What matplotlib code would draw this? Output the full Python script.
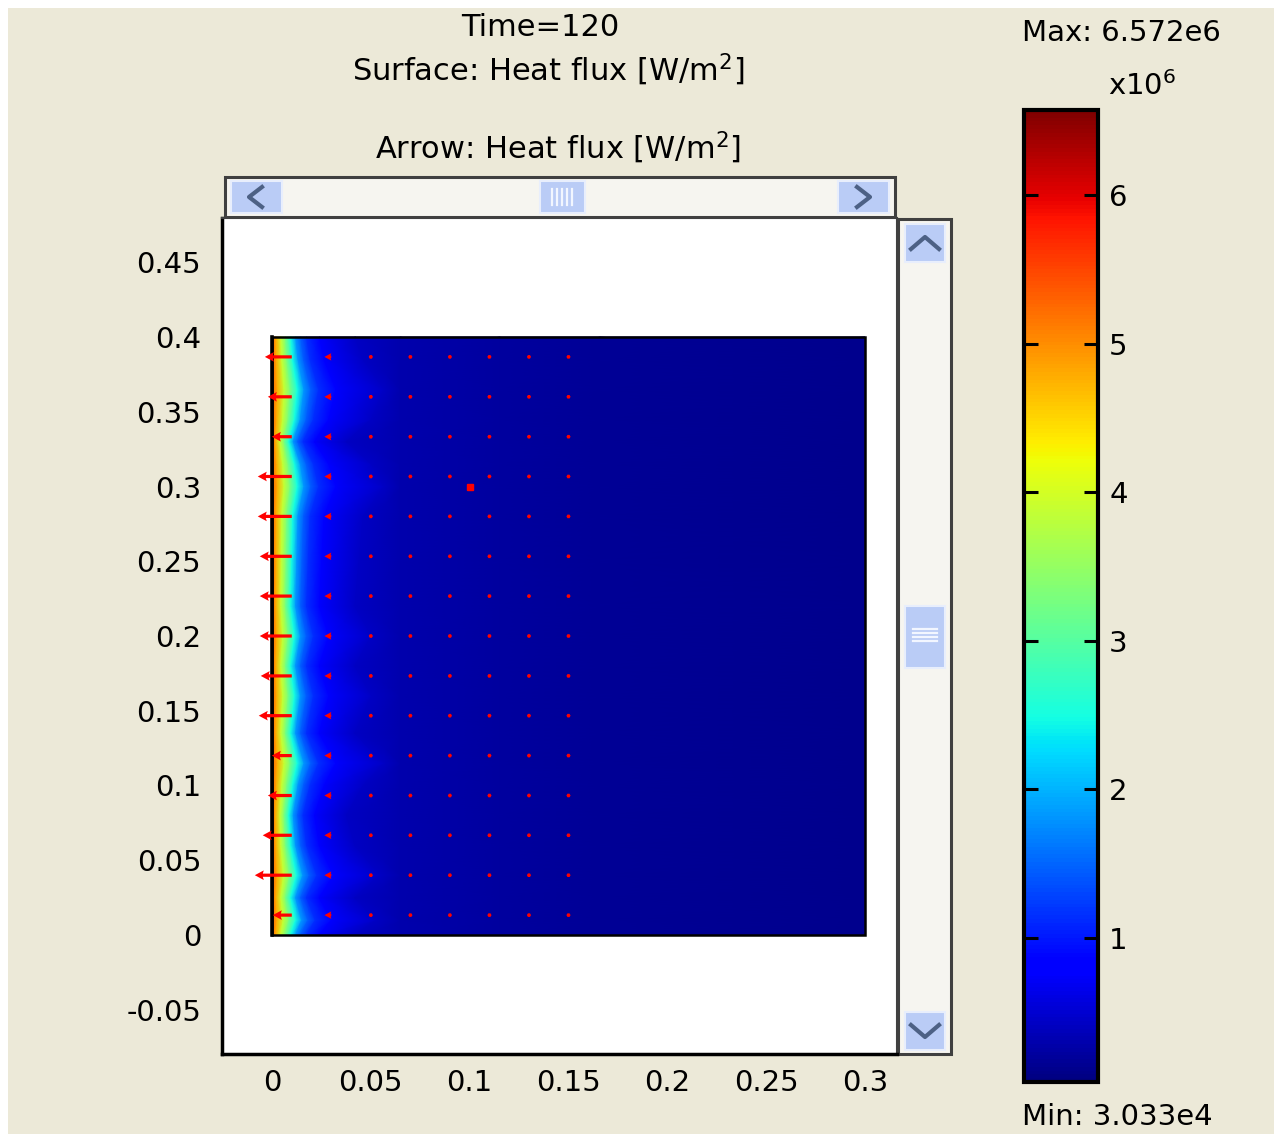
import numpy as np
import matplotlib
matplotlib.use("Agg")
import matplotlib.pyplot as plt
from matplotlib.patches import Rectangle

W, H = 1274, 1134
BG = "#ECE9D8"

# heat flux across the domain, away from the heated edge (x in m, flux in 1e6 W/m^2)
prof_x = [0.0, 0.002, 0.0045, 0.0068, 0.0095, 0.012, 0.0145, 0.0175, 0.024, 0.042, 0.065, 0.115, 0.166, 0.3]
prof_v = [5.3, 4.8, 3.9, 3.3, 2.5, 1.8, 1.45, 1.14, 0.75, 0.42, 0.3, 0.22, 0.17, 0.11]

# how far the hot band reaches in on each row
row_y = [0.0, 0.01, 0.025, 0.04, 0.06, 0.08, 0.1, 0.115, 0.135, 0.16, 0.18,
         0.2, 0.22, 0.25, 0.28, 0.3, 0.315, 0.33, 0.345, 0.365, 0.385, 0.4]
row_s = [1.0, 1.25, 1.0, 1.3, 1.0, 0.9, 1.1, 1.35, 1.0, 1.2, 1.0,
         1.2, 1.0, 1.05, 1.1, 1.35, 1.2, 0.9, 1.2, 1.35, 1.1, 1.0]

# arrow grid and x-component of the flux (1e6 W/m^2, pointing to -x)
arrow_x = [0.01, 0.03, 0.05, 0.07, 0.09, 0.11, 0.13, 0.15]
arrow_y = [0.3867, 0.36, 0.3333, 0.3067, 0.28, 0.2533, 0.2267, 0.2,
           0.1733, 0.1467, 0.12, 0.0933, 0.0667, 0.04, 0.0133]
qx_edge = [1.36, 1.21, 1.01, 1.72, 1.72, 1.62, 1.62, 1.62, 1.57, 1.67, 1.01, 1.21, 1.47, 1.87, 0.96]
qx_inner = [0.35, 0.2, 0.15, 0.1, 0.1, 0.1, 0.1]

probe = (0.1, 0.3)
vmin, vmax = 0.03033, 6.572
cb_ticks = [1, 2, 3, 4, 5, 6]
x_ticks = [0, 0.05, 0.1, 0.15, 0.2, 0.25, 0.3]
x_labels = ["0", "0.05", "0.1", "0.15", "0.2", "0.25", "0.3"]
y_ticks = [-0.05, 0, 0.05, 0.1, 0.15, 0.2, 0.25, 0.3, 0.35, 0.4, 0.45]
y_labels = ["-0.05", "0", "0.05", "0.1", "0.15", "0.2", "0.25", "0.3", "0.35", "0.4", "0.45"]

fig = plt.figure(figsize=(W / 100, H / 100), dpi=100, facecolor="white")

# ---------------- background and window widgets (pixel coords) ----------------
bg = fig.add_axes([0, 0, 1, 1], zorder=0)
bg.set_xlim(0, W)
bg.set_ylim(H, 0)
bg.axis("off")
bg.add_patch(Rectangle((8, 8), W - 8, H - 8, color=BG, lw=0))

BTN = "#BACCF6"
BTN_EDGE = "#E8EEFC"
CHEV = "#4D6185"

def button(x0, y0, x1, y1):
    bg.add_patch(Rectangle((x0, y0), x1 - x0, y1 - y0, fc=BTN, ec=BTN_EDGE, lw=1.5))

# horizontal scrollbar
bg.add_patch(Rectangle((225, 177), 670, 40, fc="#F6F5F0", ec="#404040", lw=2.2))
button(231, 181, 282, 213)
button(838, 181, 889, 213)
button(540, 181, 585, 213)
bg.plot([262, 249, 262], [187, 197, 207], color=CHEV, lw=3)
bg.plot([857, 870, 857], [187, 197, 207], color=CHEV, lw=3)
for gx in [552, 557, 562, 567, 572]:
    bg.plot([gx, gx], [189, 205], color="#F2F6FF", lw=1.6)

# vertical scrollbar
bg.add_patch(Rectangle((898, 219), 53, 835, fc="#F6F5F0", ec="#404040", lw=2.2))
button(905, 224, 945, 262)
button(905, 1012, 945, 1050)
button(905, 606, 945, 668)
bg.plot([911, 925, 939], [249, 237, 249], color=CHEV, lw=3)
bg.plot([911, 925, 939], [1025, 1037, 1025], color=CHEV, lw=3)
for gy in [629, 633, 637, 641]:
    bg.plot([913, 937], [gy, gy], color="#F2F6FF", lw=1.6)

# ---------------- main plot ----------------
ax = fig.add_axes([222 / W, 1 - 1054 / H, 675 / W, 836 / H], zorder=2)
ax.set_facecolor("white")

px = np.array(prof_x)
s = np.array(row_s)
X = np.where(px[None, :] <= 0.042, px[None, :] * s[:, None], px[None, :])
Y = np.repeat(np.array(row_y)[:, None], len(prof_x), axis=1)
C = np.tile(np.array(prof_v), (len(row_y), 1))
mesh = ax.pcolormesh(X, Y, C, shading="gouraud", cmap="jet", vmin=vmin, vmax=vmax, zorder=1)

ax.add_patch(Rectangle((0, 0), 0.3, 0.4, fill=False, ec="black", lw=1.8, zorder=3))
ax.plot([0, 0], [0, 0.4], color="black", lw=2.6, zorder=3)

AX, AY = np.meshgrid(arrow_x, arrow_y)
U = -np.column_stack([qx_edge] + [np.full(len(arrow_y), q) for q in qx_inner])
V = np.zeros_like(U)
ax.quiver(AX, AY, U, V, angles="xy", scale_units="xy", scale=100, units="dots",
          width=3.2, headwidth=3, headlength=2.8, headaxislength=2.5, minlength=1.3,
          color="red", zorder=4)
ax.plot([probe[0]], [probe[1]], marker="s", ms=4.5, color="red", mec="red", zorder=5)

ax.set_xlim(-0.0253, 0.3162)
ax.set_ylim(-0.0796, 0.4796)
ax.set_xticks(x_ticks)
ax.set_xticklabels(x_labels)
ax.set_yticks(y_ticks)
ax.set_yticklabels(y_labels)
ax.tick_params(axis="both", length=0, labelsize=21)
ax.tick_params(axis="x", pad=11)
ax.tick_params(axis="y", pad=15)
for side in ["left", "bottom"]:
    ax.spines[side].set_linewidth(2.5)
    ax.spines[side].set_color("black")
for side in ["top", "right"]:
    ax.spines[side].set_linewidth(1.5)
    ax.spines[side].set_color("#404040")

# ---------------- colorbar ----------------
cax = fig.add_axes([1024 / W, 1 - 1082 / H, 74 / W, 972 / H], zorder=2)
cb = fig.colorbar(mesh, cax=cax)
cb.set_ticks(cb_ticks)
cb.set_ticklabels([str(t) for t in cb_ticks])
cb.outline.set_linewidth(3)
cax.tick_params(direction="in", length=10, width=2.2, left=True, right=True,
                labelleft=False, labelright=True, labelsize=21, pad=8)

# ---------------- texts ----------------
fig.text(540 / W, 1 - 28 / H, "Time=120", ha="center", va="center", fontsize=22)
fig.text(548 / W, 1 - 70 / H, "Surface: Heat flux [W/m$^2$]", ha="center", va="center", fontsize=22)
fig.text(558 / W, 1 - 148 / H, "Arrow: Heat flux [W/m$^2$]", ha="center", va="center", fontsize=22)
fig.text(1022 / W, 1 - 33 / H, "Max: 6.572e6", ha="left", va="center", fontsize=21)
fig.text(1108 / W, 1 - 86 / H, "x10$^6$", ha="left", va="center", fontsize=21)
fig.text(1022 / W, 1 - 1117 / H, "Min: 3.033e4", ha="left", va="center", fontsize=21)

fig.savefig("out.png", dpi=100, facecolor="white")
